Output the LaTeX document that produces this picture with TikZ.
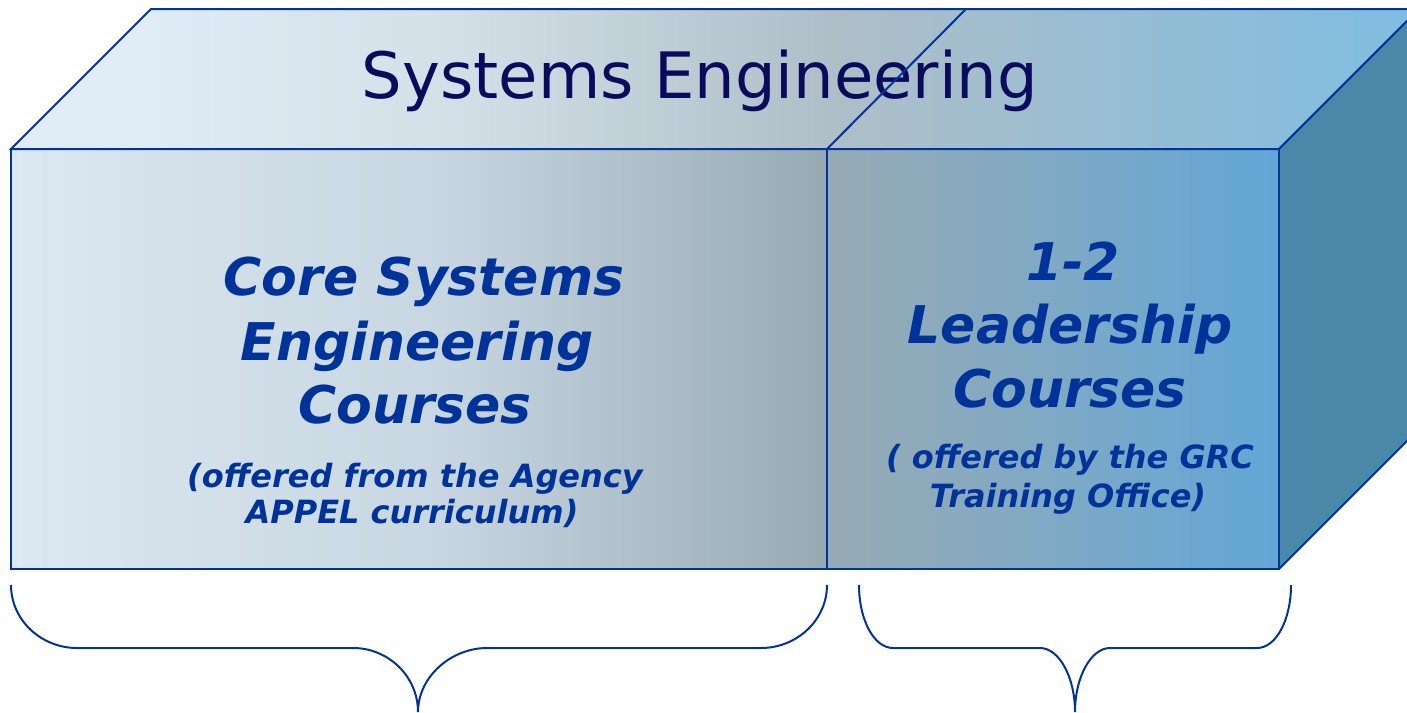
\documentclass[tikz,border=0pt]{standalone}
\usepackage{fontspec}
\setmainfont{DejaVu Sans}
\definecolor{edge}{HTML}{00349A}
\definecolor{txtblue}{HTML}{003399}
\definecolor{titlenavy}{HTML}{0B0B5E}
\definecolor{sideface}{HTML}{4A88AA}
\definecolor{fA}{HTML}{DCE8F2}
\definecolor{fB}{HTML}{C7D6E0}
\definecolor{fC}{HTML}{97AAB4}
\definecolor{fD}{HTML}{7FA9C4}
\definecolor{fE}{HTML}{62A6D6}
\definecolor{tA}{HTML}{E0ECF5}
\definecolor{tB}{HTML}{D3E0E8}
\definecolor{tC}{HTML}{AFBEC7}
\definecolor{tD}{HTML}{7EBDE1}
\pgfdeclarehorizontalshading{frontsh}{100bp}{color(0bp)=(fA); color(25bp)=(fA); color(42bp)=(fB); color(57.2bp)=(fC); color(66bp)=(fD); color(75bp)=(fE); color(100bp)=(fE)}
\pgfdeclarehorizontalshading{topsh}{100bp}{color(0bp)=(tA); color(30bp)=(tA); color(40.6bp)=(tB); color(54.1bp)=(tC); color(75bp)=(tD); color(100bp)=(tD)}
\tikzset{
  edgeline/.style={draw=edge, line width=2pt, line join=miter},
  bracepath/.style={draw=edge, line width=2pt},
  maintext/.style={text=txtblue, font=\fontsize{52}{64}\selectfont\bfseries\itshape, anchor=base, inner sep=0pt},
  subtext/.style={text=txtblue, font=\fontsize{32}{36}\selectfont\bfseries\itshape, anchor=base, inner sep=0pt},
  titletext/.style={text=titlenavy, font=\fontsize{64}{70}\selectfont, anchor=base, inner sep=0pt}
}
\begin{document}
\begin{tikzpicture}[x=1pt, y=-1pt]
\useasboundingbox (0,0) rectangle (1407,712);
\begin{scope}
\clip (0,0) rectangle (1407,712);
% faces
\shade[shading=topsh] (11,149) -- (151,9) -- (1419,9) -- (1279,149) -- cycle;
\shade[shading=frontsh] (11,149) rectangle (1279,569);
\fill[sideface] (1279,149) -- (1419,9) -- (1419,429) -- (1279,569) -- cycle;
% title
\node[titletext] (title) at (700,98) {Systems Engineering};
% edges
\draw[edgeline] (11,149) -- (151,9) -- (1419,9) -- (1279,149) -- cycle;
\draw[edgeline] (11,149) rectangle (1279,569);
\draw[edgeline] (1279,149) -- (1419,9) -- (1419,429) -- (1279,569);
\draw[edgeline] (827,149) -- (966,9);
\draw[edgeline] (827,149) -- (827,569);
\end{scope}
% left block text
\node[maintext] (core1) at (424,295) {Core Systems};
\node[maintext] (core2) at (417,360) {Engineering};
\node[maintext] (core3) at (415,423) {Courses};
\node[subtext] (coresub1) at (415,487) {(offered from the Agency};
\node[subtext] (coresub2) at (412,523) {APPEL curriculum)};
% right block text
\node[maintext] (lead1) at (1073,280) {1-2};
\node[maintext] (lead2) at (1070,343) {Leadership};
\node[maintext] (lead3) at (1070,407) {Courses};
\node[subtext] (leadsub1) at (1070,468) {( offered by the GRC};
\node[subtext] (leadsub2) at (1068,507) {Training Office)};
% braces
\coordinate (lb1) at (11,585);
\coordinate (lb2) at (827,585);
\coordinate (lbtip) at (418,712);
\coordinate (rb1) at (859,585);
\coordinate (rb2) at (1291,585);
\coordinate (rbtip) at (1075,712);
\draw[bracepath] (lb1) .. controls (11,620) and (41,648) .. (77,648) -- (353,648)
  .. controls (389,648) and (418,677) .. (lbtip)
  .. controls (418,677) and (451,648) .. (487,648) -- (761,648)
  .. controls (797,648) and (827,620) .. (lb2);
\draw[bracepath] (rb1) .. controls (859,620) and (874,648) .. (893,648) -- (1040,648)
  .. controls (1059,648) and (1075,677) .. (rbtip)
  .. controls (1075,677) and (1091,648) .. (1110,648) -- (1257,648)
  .. controls (1276,648) and (1291,620) .. (rb2);
\end{tikzpicture}
\end{document}
